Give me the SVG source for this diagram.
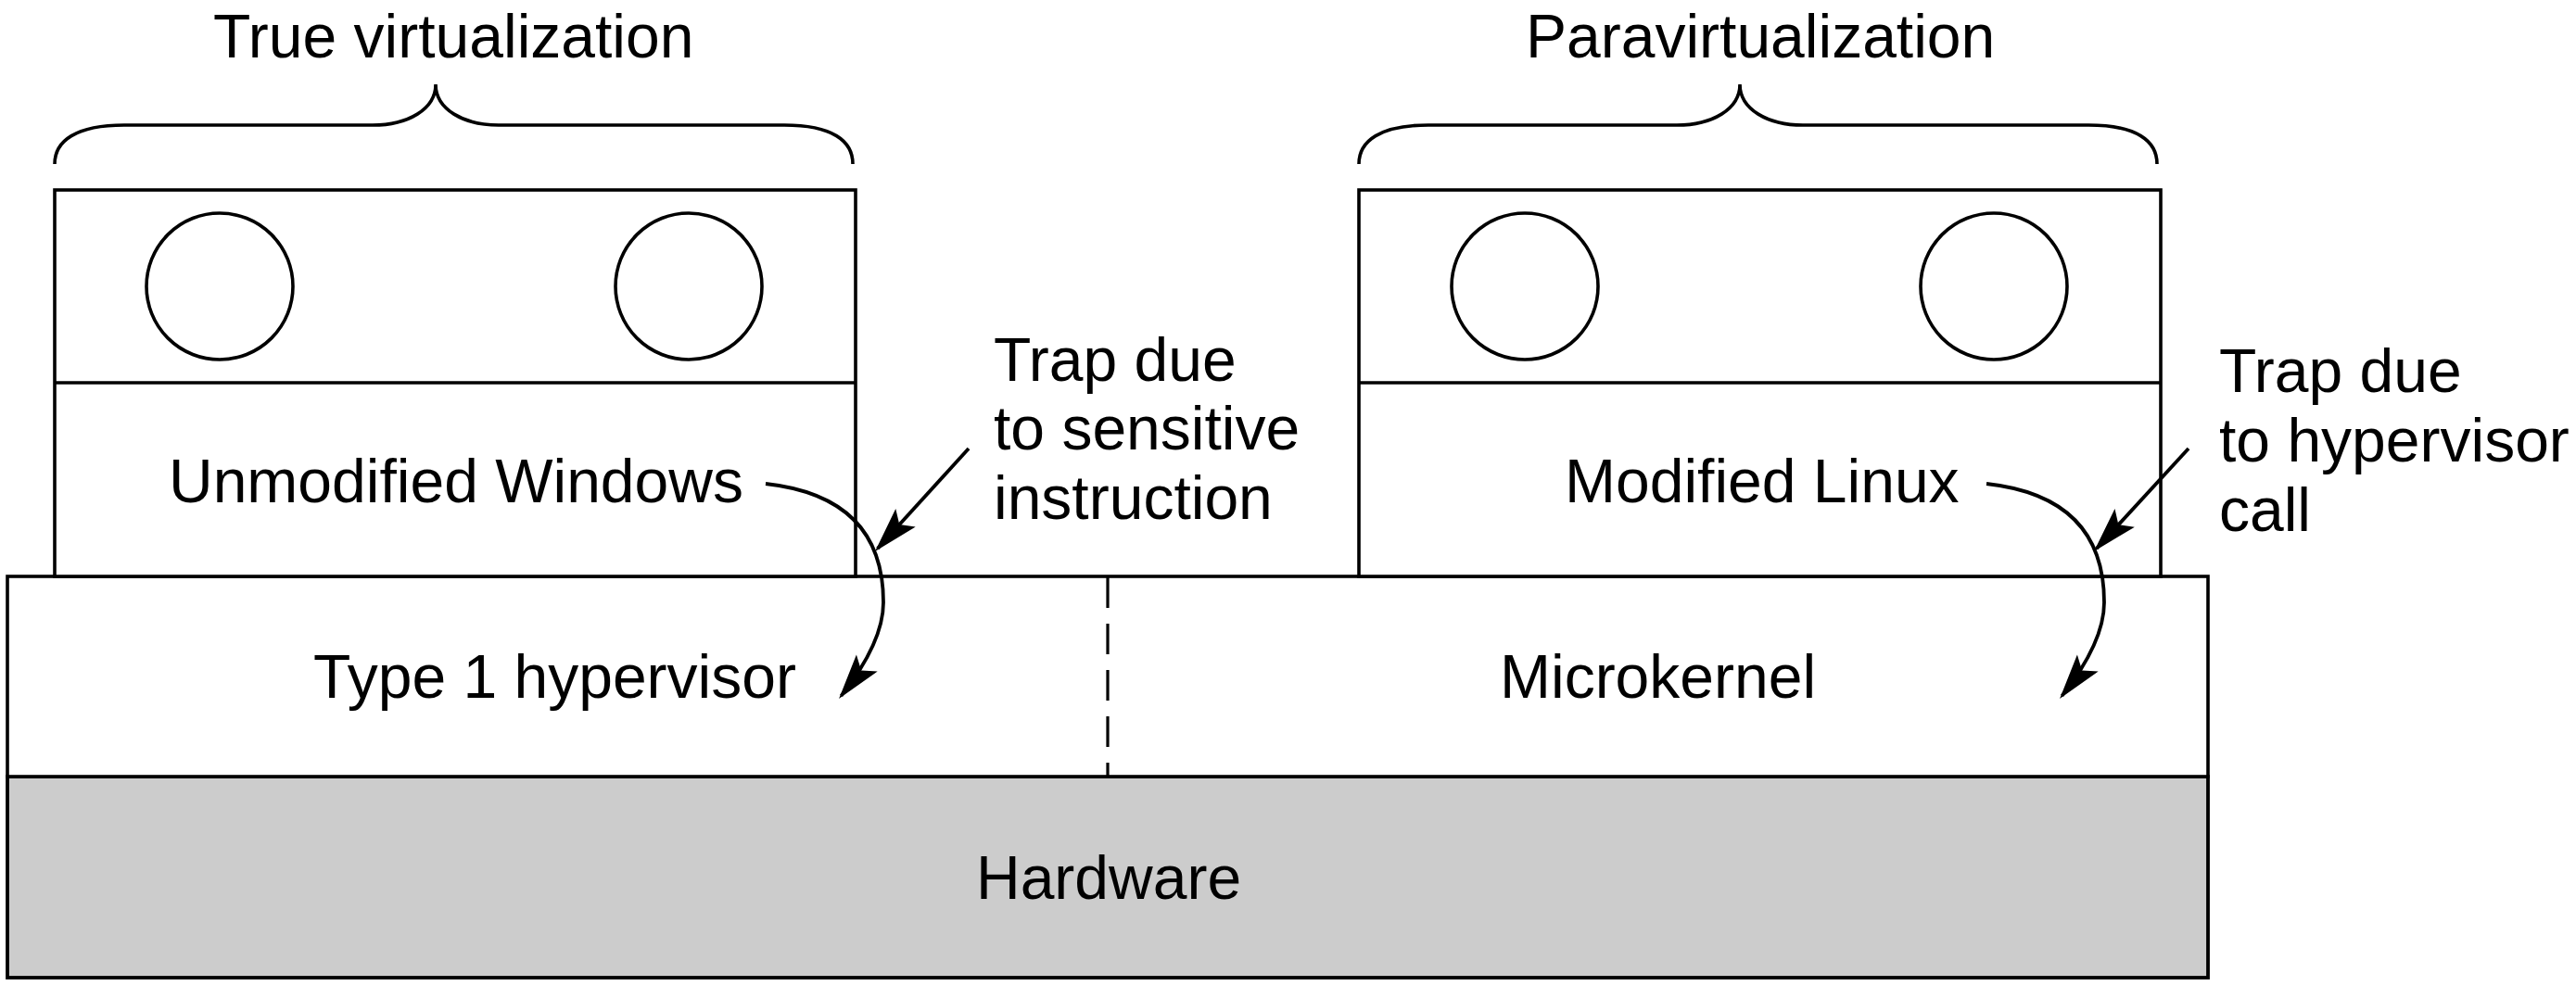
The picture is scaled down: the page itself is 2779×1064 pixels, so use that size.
<svg xmlns="http://www.w3.org/2000/svg" width="2779" height="1064" viewBox="0 0 2779 1064">
<style>
.ln{fill:none;stroke:#000;stroke-width:3.6}
.box{fill:#fff;stroke:#000;stroke-width:3.6}
.hw{fill:#cccccc;stroke:#000;stroke-width:3.8}
.dash{fill:none;stroke:#000;stroke-width:3.2;stroke-dasharray:33 17}
.t{font-family:"Liberation Sans",Arial,Helvetica,sans-serif;font-size:66px;fill:#000}
.arr{fill:none;stroke:#000;stroke-width:3.8;marker-end:url(#ah)}
</style>
<defs>
<marker id="ah" markerUnits="userSpaceOnUse" viewBox="-52 -17 56 34" refX="-4" refY="0" markerWidth="56" markerHeight="34" orient="auto">
<path d="M0,0 L-49,-14.5 L-39,0 L-49,14.5 Z" fill="#000"/>
</marker>
<path id="brace" d="M59,177 C59,152 82,135 134,135 L402,135 C440,135 470,118 470,91 C470,118 500,135 538,135 L846,135 C898,135 920,152 920,177"/>
</defs>
<rect x="0" y="0" width="2779" height="1064" fill="#fff"/>

<g id="hardware">
<rect x="8" y="838" width="2374" height="217" class="hw"/>
<text class="t" x="1053" y="970">Hardware</text>
</g>

<g id="hypervisor">
<rect x="8" y="622" width="2374" height="216" class="box"/>
<line x1="1195" y1="623" x2="1195" y2="838" class="dash"/>
<text class="t" x="338" y="753">Type 1 hypervisor</text>
<text class="t" x="1618" y="753">Microkernel</text>
</g>

<g id="vm-windows">
<rect x="59" y="205" width="864" height="417" class="box"/>
<line x1="59" y1="413" x2="923" y2="413" class="ln"/>
<circle cx="237" cy="309" r="79" class="ln"/>
<circle cx="743" cy="309" r="79" class="ln"/>
<text class="t" x="182" y="542">Unmodified Windows</text>
</g>

<g id="vm-linux">
<rect x="1466" y="205" width="865" height="417" class="box"/>
<line x1="1466" y1="413" x2="2331" y2="413" class="ln"/>
<circle cx="1645" cy="309" r="79" class="ln"/>
<circle cx="2151" cy="309" r="79" class="ln"/>
<text class="t" x="1688" y="542">Modified Linux</text>
</g>

<g id="true-virtualization">
<use href="#brace" class="ln"/>
<text class="t" x="230" y="62">True virtualization</text>
</g>

<g id="paravirtualization">
<use href="#brace" class="ln" transform="translate(1407,0)"/>
<text class="t" x="1646" y="62">Paravirtualization</text>
</g>

<g id="trap-sensitive">
<text class="t" x="1072" y="411">Trap due</text>
<text class="t" x="1072" y="485">to sensitive</text>
<text class="t" x="1072" y="560">instruction</text>
</g>

<g id="trap-hypercall">
<text class="t" x="2394" y="423">Trap due</text>
<text class="t" x="2394" y="498">to hypervisor</text>
<text class="t" x="2394" y="573">call</text>
</g>

<g id="connectors">
<path class="arr" d="M826,522 Q953,536 953,650 Q953,693 907.5,750.9"/>
<path class="arr" d="M1045,484 L946.7,592"/>
<path class="arr" d="M2143,522 Q2270,536 2270,650 Q2270,693 2224.5,750.9"/>
<path class="arr" d="M2361,484 L2261.7,592"/>
</g>
</svg>
